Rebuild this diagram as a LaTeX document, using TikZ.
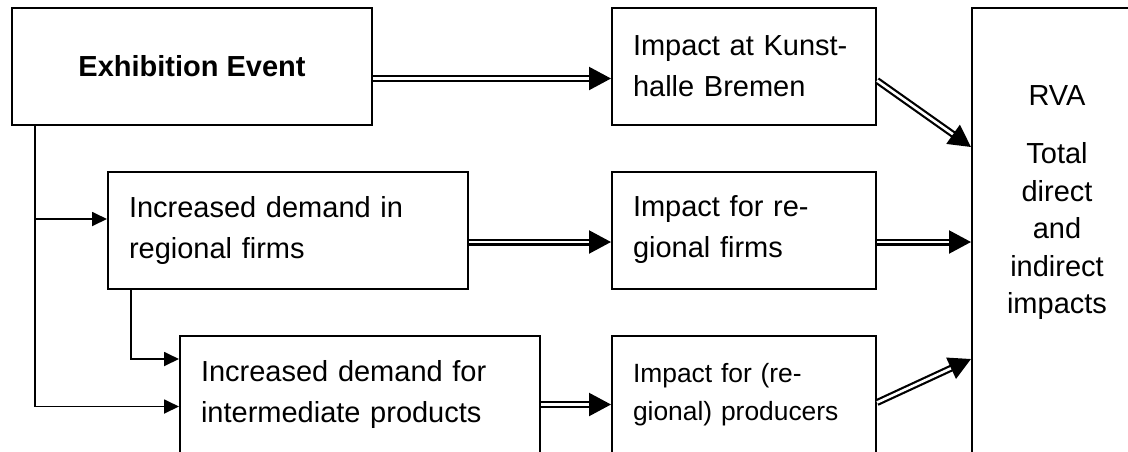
\documentclass[tikz,border=0pt]{standalone}
\usepackage{fontspec}
\setmainfont{Liberation Sans}
\usetikzlibrary{arrows.meta}

\begin{document}
\begin{tikzpicture}[x=0.5pt,y=-0.5pt,
  box/.style={draw,line width=1pt,rectangle,inner ysep=0pt,minimum height=58.5pt,font=\fontsize{14.5}{20.5}\selectfont},
  leftbox/.style={box,align=left,text width=#1,inner xsep=10.5pt},
  dblarrow/.style={double,line width=1.1pt,double distance=1.3pt,-{Triangle[length=11pt,width=11.5pt]}},
  thinarrow/.style={line width=0.9pt,-{Triangle[length=7.5pt,width=7pt]}}]
\clip (0,0) rectangle (1128,451);
\node[box,minimum width=180pt,font=\fontsize{14.5}{20.5}\selectfont\bfseries] (event) at (192,66.5) {Exhibition Event};
\node[leftbox=111pt] (kunst) at (744,66.5) {Impact at Kunst-\\halle Bremen};
\node[leftbox=159pt] (reg) at (288,230) {Increased demand in\\regional firms};
\node[leftbox=111pt] (imreg) at (744,230) {Impact for re-\\gional firms};
\node[leftbox=159pt] (inter) at (360,394.5) {Increased demand for\\intermediate products};
\node[leftbox=111pt,font=\fontsize{13.2}{19}\selectfont] (improd) at (744,394.5) {Impact for (re-\\gional) producers};
\node[draw,line width=1pt,inner sep=0pt] (rva) at (1057,234) {\parbox[c][226pt][t]{85pt}{\centering\fontsize{14.5}{18.75}\selectfont\vspace*{39pt}RVA\\[10.25pt]Total\\direct\\and\\indirect\\impacts}};
\coordinate (rin1) at ([yshift=-70pt]rva.north west);
\coordinate (rin3) at ([yshift=-176pt]rva.north west);
\draw[dblarrow] ([yshift=-6pt]event.east) -- ([yshift=-6pt]kunst.west);
\draw[dblarrow] ([yshift=-7pt]kunst.east) -- (rin1);
\draw[dblarrow] ([yshift=-6pt]reg.east) -- ([yshift=-6pt]imreg.west);
\draw[dblarrow] ([yshift=-6pt]imreg.east) -- ([yshift=-6pt]imreg.east -| rva.west);
\draw[dblarrow] ([yshift=-5pt]inter.east) -- ([yshift=-5pt]improd.west);
\draw[dblarrow] ([yshift=-4pt]improd.east) -- (rin3);
\draw[thinarrow] ([xshift=12pt]event.south west) |- ([yshift=5.5pt]reg.west);
\draw[thinarrow] ([xshift=12pt]event.south west) |- ([yshift=-6pt]inter.west);
\draw[thinarrow] ([xshift=12pt]reg.south west) |- ([yshift=17.75pt]inter.west);
\end{tikzpicture}
\end{document}
